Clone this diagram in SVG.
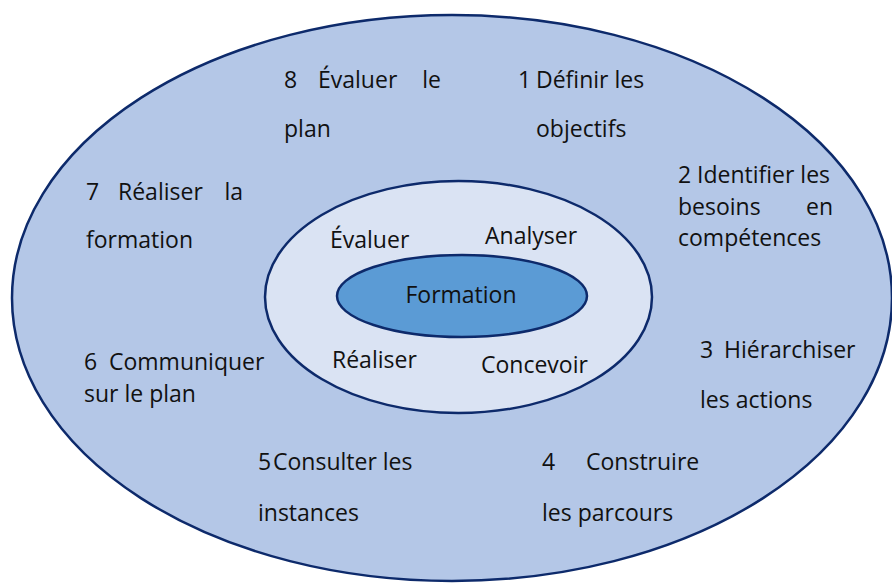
<svg xmlns="http://www.w3.org/2000/svg" width="892" height="583" viewBox="0 0 892 583">
<style>
.ring{stroke:#0d2a6b;stroke-width:2.5}
.t{font-family:"Open Sans","Liberation Sans",Arial,sans-serif;font-size:23px;fill:#111}
.c{font-family:"Open Sans","Liberation Sans",Arial,sans-serif;font-size:23px;fill:#111}
.e{text-anchor:end}
</style>
<rect width="892" height="583" fill="#fff"/>
<g id="outer">
<ellipse class="ring" cx="452" cy="298" rx="440" ry="283" fill="#b4c7e7"/>
</g>
<g id="middle">
<ellipse class="ring" cx="458.5" cy="297" rx="193.5" ry="116" fill="#dae3f3"/>
</g>
<g id="core">
<ellipse class="ring" cx="462" cy="296" rx="125" ry="41" fill="#5b9bd5"/>
<text class="c" x="461" y="303" text-anchor="middle">Formation</text>
</g>
<g id="inner-labels">
<text class="c" x="330" y="248">Évaluer</text>
<text class="c" x="485" y="244">Analyser</text>
<text class="c" x="332" y="368">Réaliser</text>
<text class="c" x="481" y="373">Concevoir</text>
</g>
<g id="step8">
<text class="t" y="88"><tspan x="284">8</tspan><tspan x="318">Évaluer</tspan><tspan x="441" class="e">le</tspan></text>
<text class="t" x="284" y="137">plan</text>
</g>
<g id="step1">
<text class="t" y="88"><tspan x="518">1</tspan><tspan x="536">Définir les</tspan></text>
<text class="t" x="536" y="137">objectifs</text>
</g>
<g id="step2">
<text class="t" y="183"><tspan x="678">2</tspan><tspan x="697">Identifier les</tspan></text>
<text class="t" y="215"><tspan x="678">besoins</tspan><tspan x="833" class="e">en</tspan></text>
<text class="t" x="678" y="246">compétences</text>
</g>
<g id="step3">
<text class="t" y="358"><tspan x="700">3</tspan><tspan x="724">Hiérarchiser</tspan></text>
<text class="t" x="700" y="408">les actions</text>
</g>
<g id="step4">
<text class="t" y="470"><tspan x="542">4</tspan><tspan x="586">Construire</tspan></text>
<text class="t" x="542" y="521">les parcours</text>
</g>
<g id="step5">
<text class="t" y="470"><tspan x="258">5</tspan><tspan x="273">Consulter les</tspan></text>
<text class="t" x="258" y="521">instances</text>
</g>
<g id="step6">
<text class="t" y="370"><tspan x="84">6</tspan><tspan x="109">Communiquer</tspan></text>
<text class="t" x="84" y="402">sur le plan</text>
</g>
<g id="step7">
<text class="t" y="200"><tspan x="86">7</tspan><tspan x="118">Réaliser</tspan><tspan x="243" class="e">la</tspan></text>
<text class="t" x="86" y="248">formation</text>
</g>
</svg>
